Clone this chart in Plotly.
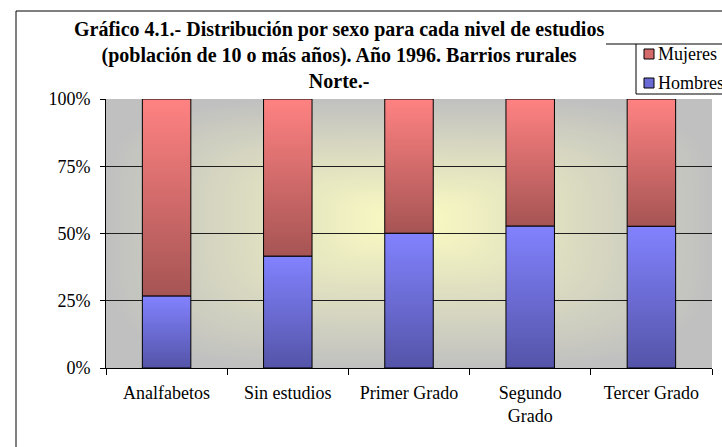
import base64
import struct
import zlib

import numpy as np
import plotly.graph_objects as go

# Datos: distribución (%) por sexo para cada nivel de estudios
categorias = ["Analfabetos", "Sin estudios", "Primer Grado", "Segundo<br>Grado", "Tercer Grado"]
hombres = [26.8, 41.6, 50.1, 52.8, 52.7]
mujeres = [73.2, 58.4, 49.9, 47.2, 47.3]
ticks_y = [0, 25, 50, 75, 100]
ticks_y_texto = ["0%", "25%", "50%", "75%", "100%"]
series = ["Mujeres", "Hombres"]

# Lienzo y márgenes (px)
W, H = 722, 447
L, R, T, B = 106, 10, 99, 79
PW, PH = W - L - R, H - T - B
ANCHO_BARRA = 0.4
SERIF = "Liberation Serif, Times New Roman, serif"


def px(x):
    """Pixel horizontal -> coordenada 'paper'."""
    return (x - L) / PW


def py(y):
    """Pixel vertical -> coordenada 'paper'."""
    return (H - B - y) / PH


def png_uri(arr):
    """Codifica un array RGB uint8 como PNG en data URI."""
    h, w, _ = arr.shape
    raw = b"".join(b"\x00" + arr[i].tobytes() for i in range(h))

    def chunk(tag, data):
        c = struct.pack(">I", len(data)) + tag + data
        return c + struct.pack(">I", zlib.crc32(tag + data) & 0xFFFFFFFF)

    png = (b"\x89PNG\r\n\x1a\n"
           + chunk(b"IHDR", struct.pack(">IIBBBBB", w, h, 8, 2, 0, 0, 0))
           + chunk(b"IDAT", zlib.compress(raw, 9))
           + chunk(b"IEND", b""))
    return "data:image/png;base64," + base64.b64encode(png).decode()


def fondo_degradado(w, h):
    """Degradado desde el centro: amarillo claro -> gris en los bordes."""
    xs = (np.arange(w) + 0.5) / w
    ys = (np.arange(h) + 0.5) / h
    cx, cy = 0.5, 0.45
    dx = np.abs(xs - cx) / np.where(xs < cx, cx, 1 - cx)
    dy = np.abs(ys - cy) / np.where(ys < cy, cy, 1 - cy)
    DX, DY = np.meshgrid(dx, dy)
    t = np.clip((DX ** 4 + DY ** 4) ** 0.25, 0, 1)
    centro = np.array([252.0, 252.0, 194.0])
    borde = np.array([192.0, 192.0, 192.0])
    img = centro + (borde - centro) * t[..., None]
    return np.clip(np.round(img), 0, 255).astype(np.uint8)


escala = {
    "Hombres": [[0, "#5454A8"], [1, "#8282FF"]],
    "Mujeres": [[0, "#A65454"], [1, "#FF8282"]],
}

fig = go.Figure()

# Barras apiladas al 100 %: cada tramo es un rectángulo con degradado vertical
for i, cat in enumerate(categorias):
    tramos = [("Hombres", 0, hombres[i]), ("Mujeres", hombres[i], hombres[i] + mujeres[i])]
    for nombre, base, tope in tramos:
        x0, x1 = i - ANCHO_BARRA / 2, i + ANCHO_BARRA / 2
        fig.add_trace(go.Scatter(
            x=[x0, x1, x1, x0, x0],
            y=[base, base, tope, tope, base],
            mode="lines",
            fill="toself",
            fillgradient=dict(type="vertical", colorscale=escala[nombre]),
            line=dict(color="#000000", width=1),
            name=nombre,
            showlegend=False,
            hoverinfo="skip",
        ))

# Fondo del área de trazado
fig.add_layout_image(dict(
    source=png_uri(fondo_degradado(PW, PH)),
    xref="paper", yref="paper", x=0, y=1, sizex=1, sizey=1,
    sizing="stretch", layer="below", xanchor="left", yanchor="top",
))

shapes = [
    # Marco del gráfico
    dict(type="rect", xref="paper", yref="paper",
         x0=px(16), x1=px(740), y0=py(11), y1=py(460),
         line=dict(color="#000000", width=1), fillcolor="rgba(0,0,0,0)", layer="below"),
    # Caja de la leyenda
    dict(type="rect", xref="paper", yref="paper",
         x0=px(636), x1=px(740), y0=py(44), y1=py(94),
         line=dict(color="#000000", width=1), fillcolor="#FFFFFF", layer="above"),
    dict(type="line", xref="paper", yref="paper",
         x0=px(606), x1=px(636), y0=py(44), y1=py(44),
         line=dict(color="#000000", width=1), layer="above"),
]
colores_leyenda = {"Mujeres": "#D46A6A", "Hombres": "#6A6AD4"}
annotations = [
    dict(text=("Gráfico 4.1.- Distribución por sexo para cada nivel de estudios<br>"
               "(población de 10 o más años). Año 1996. Barrios rurales<br>Norte.-"),
         xref="paper", yref="paper", x=px(339), y=py(16),
         xanchor="center", yanchor="top", align="center", showarrow=False,
         font=dict(family=SERIF, size=20, color="#000000", weight="bold")),
]
for k, nombre in enumerate(series):
    yc = 54 + 29 * k
    shapes.append(dict(type="rect", xref="paper", yref="paper",
                       x0=px(644), x1=px(654), y0=py(yc - 5), y1=py(yc + 5),
                       line=dict(color="#000000", width=1),
                       fillcolor=colores_leyenda[nombre], layer="above"))
    annotations.append(dict(text=nombre, xref="paper", yref="paper",
                            x=px(656), y=py(yc), xanchor="left", yanchor="middle",
                            showarrow=False, font=dict(family=SERIF, size=18, color="#000000")))

fig.update_layout(
    width=W, height=H, autosize=False,
    margin=dict(l=L, r=R, t=T, b=B, pad=0),
    paper_bgcolor="#FFFFFF",
    plot_bgcolor="rgba(0,0,0,0)",
    showlegend=False,
    shapes=shapes,
    annotations=annotations,
    font=dict(family=SERIF, size=18, color="#000000"),
)

fig.update_xaxes(
    range=[-0.5, len(categorias) - 0.5],
    tickmode="array", tickvals=list(range(len(categorias))), ticktext=categorias,
    ticks="", ticklabelstandoff=8,
    minor=dict(tickmode="array",
               tickvals=[i - 0.5 for i in range(len(categorias) + 1)],
               ticks="outside", ticklen=6, tickcolor="#000000", tickwidth=1, showgrid=False),
    showline=True, linecolor="#000000", linewidth=1,
    showgrid=False, zeroline=False, fixedrange=True,
    tickfont=dict(family=SERIF, size=18, color="#000000"),
)
fig.update_yaxes(
    range=[0, 100],
    tickmode="array", tickvals=ticks_y, ticktext=ticks_y_texto,
    ticks="outside", ticklen=5, tickcolor="#000000", tickwidth=1,
    ticklabelstandoff=6,
    showline=True, linecolor="#000000", linewidth=1,
    showgrid=True, gridcolor="#1E1E1E", gridwidth=1,
    zeroline=False, fixedrange=True,
    tickfont=dict(family=SERIF, size=18, color="#000000"),
)

fig.write_html("out.html")
